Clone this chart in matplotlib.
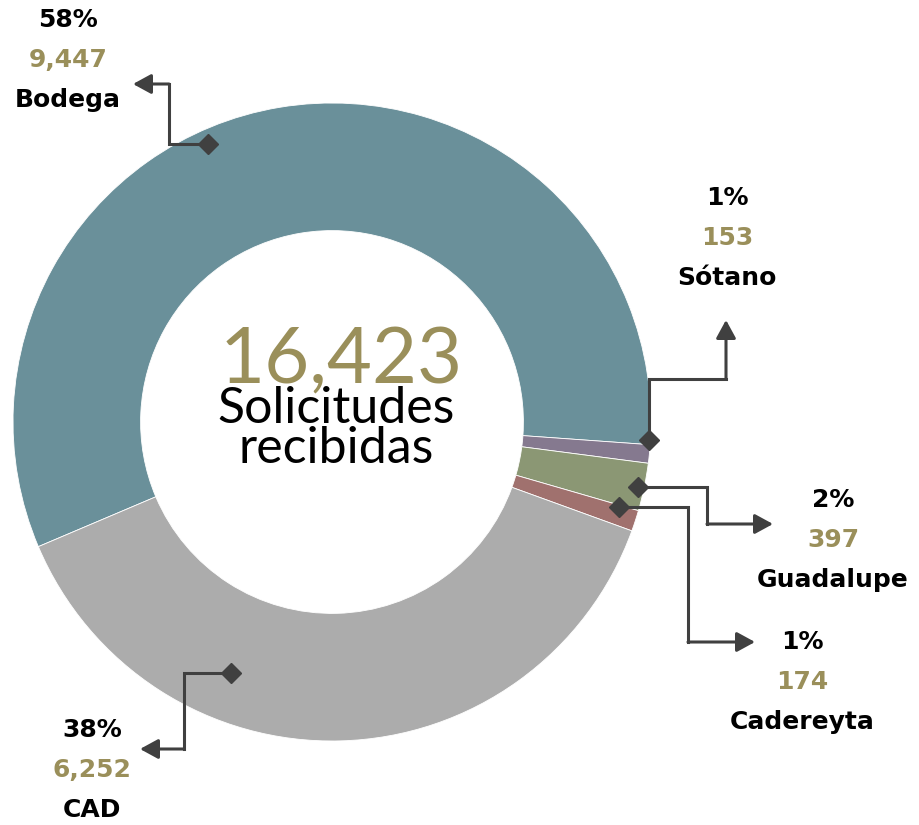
import matplotlib.pyplot as plt

# datos
sedes = ['Bodega', 'Sótano', 'Guadalupe', 'Cadereyta', 'CAD']
solicitudes = [9447, 153, 397, 174, 6252]
colores = ['#6a909a', '#85798f', '#8b9774', '#a0716e', '#acacac']

total = sum(solicitudes)
porcentajes = [round(v * 100 / total) for v in solicitudes]

# posiciones en pixeles (eje y invertido)
centro = (332, 422)
radio = 319
# punto de la etiqueta (centro de la primera linea) y trazo del conector
etiquetas = {
    'Bodega': (68, 20),
    'Sótano': (727, 198),
    'Guadalupe': (833, 500),
    'Cadereyta': (802, 642),
    'CAD': (92, 730),
}
conectores = {
    'Bodega': [(208, 144), (169, 144), (169, 84), (133, 84)],
    'Sótano': [(649, 440), (649, 379), (726, 379), (726, 320)],
    'Guadalupe': [(638, 487), (707, 487), (707, 524), (773, 524)],
    'Cadereyta': [(619, 507), (688, 507), (688, 642), (755, 642)],
    'CAD': [(231, 673), (184, 673), (184, 749), (140, 749)],
}

oliva = '#9a8f5a'
gris = '#404040'

fig = plt.figure(figsize=(9.19, 8.25), dpi=100)
ax = fig.add_axes([0, 0, 1, 1])

# con el eje y invertido el sentido se voltea
ax.pie(solicitudes, colors=colores, center=centro, radius=radio,
       startangle=157, counterclock=True,
       wedgeprops=dict(width=radio * 0.4, edgecolor='white', linewidth=0.6))

ax.set_xlim(0, 919)
ax.set_ylim(825, 0)
ax.set_aspect('equal')
ax.axis('off')

for sede, pct, val in zip(sedes, porcentajes, solicitudes):
    x, y = etiquetas[sede]
    ax.text(x, y, f'{pct}%', ha='center', va='center', fontsize=18,
            fontweight='bold', color='black')
    ax.text(x, y + 40, f'{val:,}', ha='center', va='center', fontsize=18,
            fontweight='bold', color=oliva)
    ax.text(x, y + 80, sede, ha='center', va='center', fontsize=18,
            fontweight='bold', color='black')

    pts = conectores[sede]
    xs = [p[0] for p in pts[:-1]]
    ys = [p[1] for p in pts[:-1]]
    ax.plot(xs, ys, color=gris, lw=2.2, solid_joinstyle='miter', zorder=5)
    ax.plot([pts[0][0]], [pts[0][1]], marker='D', ms=10, color=gris, zorder=6)
    ax.annotate('', xy=pts[-1], xytext=pts[-2],
                arrowprops=dict(arrowstyle='-|>,head_length=1.1,head_width=0.6',
                                color=gris, lw=2.2, shrinkA=0, shrinkB=0),
                zorder=5)

ax.text(341, 383, f'{total:,}', ha='center', va='baseline', fontsize=56,
        family='Lato', color=oliva)
ax.text(336, 423, 'Solicitudes', ha='center', va='baseline', fontsize=36,
        family='Lato', color='black')
ax.text(336, 463, 'recibidas', ha='center', va='baseline', fontsize=36,
        family='Lato', color='black')

fig.savefig('out.png', dpi=100)
